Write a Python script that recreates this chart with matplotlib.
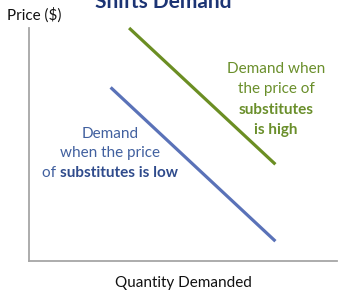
import matplotlib
matplotlib.use("Agg")
import matplotlib.pyplot as plt

plt.rcParams['font.family'] = ['Lato', 'DejaVu Sans']

# Data
green_q = [3.25, 8.0]
green_p = [10.0, 4.15]
blue_q = [2.65, 8.0]
blue_p = [7.45, 0.85]

title = "Shifts Demand"
xlabel = "Quantity Demanded"
ylabel = "Price ($)"
green_lines = [[("Demand when", "normal")],
               [("the price of", "normal")],
               [("substitutes", "bold")],
               [("is high", "bold")]]
blue_lines = [[("Demand", "normal")],
              [("when the price", "normal")],
              [("of ", "normal"), ("substitutes is low", "bold")]]

W, H = 353, 300
fig = plt.figure(figsize=(W / 100, H / 100), dpi=100)
ax = fig.add_axes([29 / W, 1 - 261 / H, (337 - 29) / W, (261 - 28) / H])
ax.set_xlim(0, 10)
ax.set_ylim(0, 10)
for s in ['top', 'right']:
    ax.spines[s].set_visible(False)
for s in ['left', 'bottom']:
    ax.spines[s].set_color('#a6a6a6')
    ax.spines[s].set_linewidth(1.3)
ax.set_xticks([])
ax.set_yticks([])

GREEN_LINE = '#6b8e23'
GREEN_TEXT = '#6a8f2b'
BLUE_LINE = '#5a72b8'
BLUE_TEXT = '#41609f'
BLUE_BOLD = '#2f4b8c'

ax.plot(green_q, green_p, color=GREEN_LINE, lw=2.3, solid_capstyle='butt', clip_on=False)
ax.plot(blue_q, blue_p, color=BLUE_LINE, lw=2.3, solid_capstyle='butt', clip_on=False)

FS = 11
fig.text(163 / W, 1 - 8 / H, title, ha='center', va='baseline', fontsize=15,
         fontweight='bold', color='#1c3474')
fig.text(7 / W, 1 - 20 / H, ylabel, ha='left', va='baseline', fontsize=FS, color='#111111')
fig.text(183 / W, 1 - 287 / H, xlabel, ha='center', va='baseline', fontsize=FS, color='#111111')

fig.canvas.draw()
renderer = fig.canvas.get_renderer()


def centered_line(pieces, cx, base_y, colors):
    texts = []
    for (s, w) in pieces:
        t = fig.text(0, 1 - base_y / H, s, ha='left', va='baseline', fontsize=FS,
                     fontweight=w, color=colors[w])
        texts.append(t)
    widths = [t.get_window_extent(renderer).width for t in texts]
    total = sum(widths)
    x = cx - total / 2
    for t, w in zip(texts, widths):
        t.set_x(x / W)
        x += w


for i, line in enumerate(green_lines):
    centered_line(line, 276, 73 + i * 20.5, {'normal': GREEN_TEXT, 'bold': GREEN_TEXT})
for i, line in enumerate(blue_lines):
    centered_line(line, 110, 138 + i * 19.5, {'normal': BLUE_TEXT, 'bold': BLUE_BOLD})

fig.savefig('out.png', dpi=100)
